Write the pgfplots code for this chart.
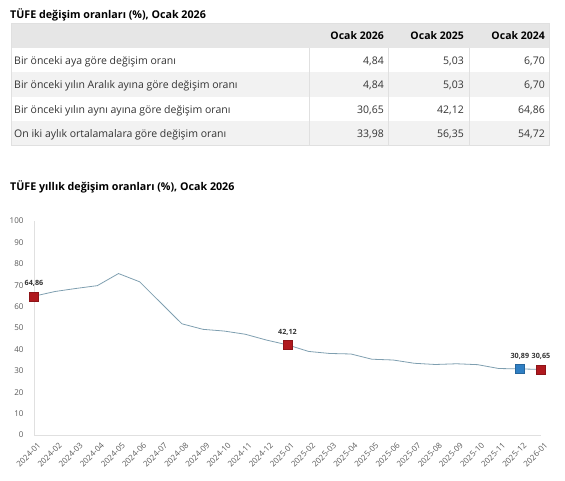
\documentclass[border=0pt]{standalone}
\usepackage{fontspec}
\setmainfont{Open Sans}
\usepackage{pgfplots}
\pgfplotsset{compat=1.18}

\definecolor{linec}{HTML}{7F9FB0}
\definecolor{redm}{HTML}{B0191E}
\definecolor{bluem}{HTML}{2F7FC4}
\definecolor{hdrbg}{HTML}{E6E6E6}
\definecolor{rowbg}{HTML}{F2F2F2}
\definecolor{sepc}{HTML}{E0E0E0}
\definecolor{txt}{HTML}{333333}
\definecolor{tick}{HTML}{595959}

\begin{document}
\begin{tikzpicture}
\path[use as bounding box] (0,0) rectangle (565pt,-480pt);

% ---- table ----
\node[anchor=base west, inner sep=0, font=\fontsize{10.7}{12}\selectfont\bfseries, text=black] at (10pt,-18pt) {TÜFE değişim oranları (\%), Ocak 2026};
\fill[hdrbg] (11pt,-23pt) rectangle (549pt,-48pt);
\fill[rowbg] (11pt,-72pt) rectangle (549pt,-97pt);
\fill[rowbg] (11pt,-121pt) rectangle (549pt,-145pt);
\foreach \xx in {309,388,469}
  \draw[sepc, line width=0.6pt] (\xx pt,-48pt) -- (\xx pt,-145pt);
\draw[sepc, line width=0.5pt] (11pt,-23pt) rectangle (549pt,-145pt);

\begin{scope}[every node/.style={inner sep=0, font=\fontsize{10.5}{12}\selectfont, text=txt}]
\node[anchor=base east, font=\fontsize{10.5}{12}\selectfont\bfseries, text=black] at (384pt,-39pt) {Ocak 2026};
\node[anchor=base east, font=\fontsize{10.5}{12}\selectfont\bfseries, text=black] at (464pt,-39pt) {Ocak 2025};
\node[anchor=base east, font=\fontsize{10.5}{12}\selectfont\bfseries, text=black] at (545pt,-39pt) {Ocak 2024};

\node[anchor=base west] at (14pt,-64pt) {Bir önceki aya göre değişim oranı};
\node[anchor=base east] at (384pt,-64pt) {4,84};
\node[anchor=base east] at (464pt,-64pt) {5,03};
\node[anchor=base east] at (545pt,-64pt) {6,70};

\node[anchor=base west] at (14pt,-88pt) {Bir önceki yılın Aralık ayına göre değişim oranı};
\node[anchor=base east] at (384pt,-88pt) {4,84};
\node[anchor=base east] at (464pt,-88pt) {5,03};
\node[anchor=base east] at (545pt,-88pt) {6,70};

\node[anchor=base west] at (14pt,-113pt) {Bir önceki yılın aynı ayına göre değişim oranı};
\node[anchor=base east] at (384pt,-113pt) {30,65};
\node[anchor=base east] at (464pt,-113pt) {42,12};
\node[anchor=base east] at (545pt,-113pt) {64,86};

\node[anchor=base west] at (14pt,-137pt) {On iki aylık ortalamalara göre değişim oranı};
\node[anchor=base east] at (384pt,-137pt) {33,98};
\node[anchor=base east] at (464pt,-137pt) {56,35};
\node[anchor=base east] at (545pt,-137pt) {54,72};
\end{scope}

% ---- chart ----
\node[anchor=base west, inner sep=0, font=\fontsize{10.7}{12}\selectfont\bfseries, text=black] at (10pt,-190pt) {TÜFE yıllık değişim oranları (\%), Ocak 2026};

\begin{axis}[
  at={(34pt,-435pt)}, anchor=south west,
  scale only axis,
  width=507pt, height=214pt,
  xmin=0, xmax=24, ymin=0, ymax=100,
  clip=false,
  axis lines=left,
  axis line style={-, draw=sepc, line width=0.6pt},
  major tick length=0pt,
  ytick={0,10,...,100},
  xtick={0,...,24},
  xticklabels={2024-01,2024-02,2024-03,2024-04,2024-05,2024-06,2024-07,2024-08,2024-09,2024-10,2024-11,2024-12,2025-01,2025-02,2025-03,2025-04,2025-05,2025-06,2025-07,2025-08,2025-09,2025-10,2025-11,2025-12,2026-01},
  /pgf/number format/assume math mode=true,
  yticklabel style={font=\fontsize{8}{9}\selectfont, text=tick, xshift=-7pt},
  xticklabel style={font=\fontsize{8}{9}\selectfont, text=tick, anchor=north east, inner sep=0pt, xshift=3pt, yshift=-7pt, rotate=45},
  nodes near coords style={font=\fontsize{7.2}{9}\selectfont\bfseries, text=txt, anchor=south, yshift=6pt},
]
\addplot[linec, line width=0.8pt, mark=none] coordinates {
  (0,64.86) (1,67.07) (2,68.50) (3,69.80) (4,75.45) (5,71.60) (6,61.78)
  (7,51.97) (8,49.38) (9,48.58) (10,47.09) (11,44.38) (12,42.12)
  (13,39.05) (14,38.10) (15,37.86) (16,35.41) (17,35.05) (18,33.52)
  (19,32.95) (20,33.29) (21,32.87) (22,31.07) (23,30.89) (24,30.65)
};
\addplot[only marks, mark=square*, mark size=4.5pt, mark options={fill=redm, draw=redm!80!black, line width=0.4pt},
  nodes near coords, point meta=explicit symbolic] coordinates {
  (0,64.86) [64,86]
  (12,42.12) [42,12]
  (24,30.65) [30,65]
};
\addplot[only marks, mark=square*, mark size=4.5pt, mark options={fill=bluem, draw=bluem!80!black, line width=0.4pt},
  nodes near coords, point meta=explicit symbolic] coordinates {
  (23,30.89) [30,89]
};
\end{axis}
\end{tikzpicture}
\end{document}
